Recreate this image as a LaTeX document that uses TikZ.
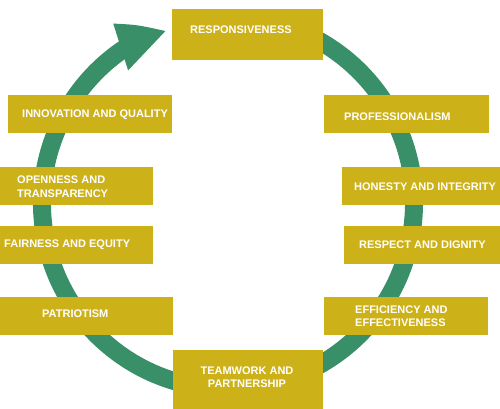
\documentclass[tikz,border=0pt]{standalone}
\usepackage{fontspec}
\setmainfont{Liberation Sans}
\definecolor{gold}{RGB}{205,177,24}
\definecolor{ringgreen}{RGB}{56,143,104}
\begin{document}
\begin{tikzpicture}[x=1pt,y=1pt,
  box/.style={fill=gold, draw=none, inner sep=0pt, outer sep=0pt, anchor=south west},
  lbl/.style={text=white, font=\fontsize{11}{13.5}\selectfont\bfseries, inner sep=0pt, anchor=west, align=left}]
\useasboundingbox (0,0) rectangle (500,409);
\coordinate (c) at (228,206);
% ring with arrow
\draw[ringgreen, line width=18] ([shift={(80:186)}]c) arc[start angle=80, end angle=-236, radius=186];
\fill[ringgreen] ([shift={(122.6:213)}]c) .. controls ([shift={(117:200)}]c) .. ([shift={(110:183)}]c) -- ([shift={(127:166)}]c) -- cycle;
% boxes
\node[box, minimum width=151, minimum height=51] (resp) at (172,349) {};
\node[box, minimum width=164, minimum height=38] (innov) at (8,276) {};
\node[box, minimum width=165, minimum height=38] (prof) at (324,276) {};
\node[box, minimum width=153, minimum height=38] (open) at (0,204) {};
\node[box, minimum width=158, minimum height=38] (hon) at (342,204) {};
\node[box, minimum width=153, minimum height=38] (fair) at (0,145) {};
\node[box, minimum width=156, minimum height=38] (resq) at (344,145) {};
\node[box, minimum width=173, minimum height=38] (pat) at (0,74) {};
\node[box, minimum width=164, minimum height=38] (eff) at (324,74) {};
\node[box, minimum width=150, minimum height=59] (team) at (173,0) {};
% labels
\node[lbl] (tresp) at (190,379) {RESPONSIVENESS};
\node[lbl] (tinnov) at (22,294) {INNOVATION AND QUALITY};
\node[lbl] (tprof) at (344,292) {PROFESSIONALISM};
\node[lbl] (topen) at (17,222.5) {OPENNESS AND\\TRANSPARENCY};
\node[lbl] (thon) at (354,222) {HONESTY AND INTEGRITY};
\node[lbl] (tfair) at (4,164) {FAIRNESS AND EQUITY};
\node[lbl] (tresq) at (359,164) {RESPECT AND DIGNITY};
\node[lbl] (tpat) at (42,95) {PATRIOTISM};
\node[lbl] (teff) at (355,93) {EFFICIENCY AND\\EFFECTIVENESS};
\node[lbl, anchor=center, align=center] (tteam) at (247,32) {TEAMWORK AND\\PARTNERSHIP};
\end{tikzpicture}
\end{document}
